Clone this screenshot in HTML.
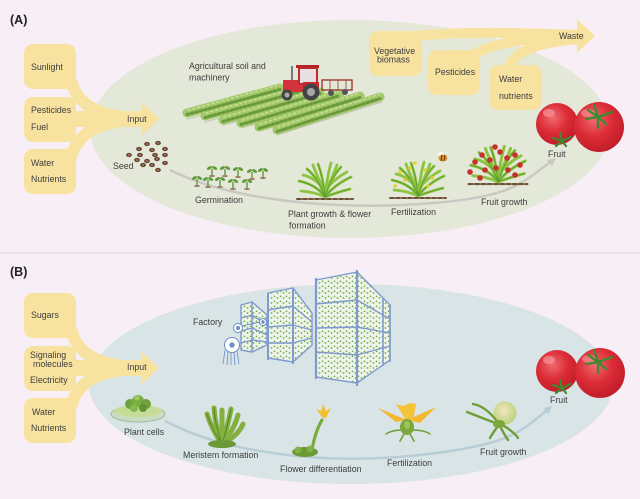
<!DOCTYPE html>
<html><head><meta charset="utf-8">
<style>
html,body{margin:0;padding:0;background:#f7eef6;}
svg{display:block;}
text{font-family:"Liberation Sans",Arial,sans-serif;font-size:8.8px;fill:#3d3d3d;}
</style></head><body>
<svg width="640" height="499" viewBox="0 0 640 499" xmlns="http://www.w3.org/2000/svg">
<defs>
<radialGradient id="tom" cx="0.4" cy="0.35" r="0.7">
<stop offset="0" stop-color="#f06a70"/>
<stop offset="0.5" stop-color="#dc2c37"/>
<stop offset="1" stop-color="#bd1c28"/>
</radialGradient>
<radialGradient id="gball" cx="0.45" cy="0.4" r="0.6">
<stop offset="0" stop-color="#f3e6c0"/>
<stop offset="1" stop-color="#b9d37c"/>
</radialGradient>
<pattern id="spk" width="6" height="5" patternUnits="userSpaceOnUse">
<rect width="6" height="5" fill="#eef4ec"/>
<circle cx="1.5" cy="3" r="1" fill="#8dbb5a"/>
<circle cx="4.5" cy="1.3" r="0.8" fill="#6aa040"/>
</pattern>
<g id="bush" fill="none" stroke-linecap="round">
<g stroke="#8cc440" stroke-width="2.8">
<path d="M0 0 Q-8 -12 -26 -16"/><path d="M0 0 Q-6 -18 -18 -28"/><path d="M0 0 Q-2 -20 -7 -33"/>
<path d="M0 0 Q2 -20 6 -34"/><path d="M0 0 Q5 -18 16 -30"/><path d="M0 0 Q9 -12 26 -20"/>
<path d="M0 0 Q-10 -5 -24 -6"/><path d="M0 0 Q10 -4 25 -8"/><path d="M-3 -10 Q-12 -20 -22 -22"/>
<path d="M3 -10 Q12 -20 22 -25"/><path d="M-1 -6 Q-10 -26 -12 -32"/><path d="M1 -6 Q10 -26 12 -32"/>
</g>
<g stroke="#5c9a30" stroke-width="0.9">
<path d="M0 0 Q-8 -12 -26 -16"/><path d="M0 0 Q-2 -20 -7 -33"/><path d="M0 0 Q5 -18 16 -30"/>
<path d="M0 0 Q10 -4 25 -8"/><path d="M0 0 Q-6 -18 -18 -28"/><path d="M0 0 Q9 -12 26 -20"/>
</g>
<line x1="-28" y1="2" x2="28" y2="2" stroke="#6e5038" stroke-width="2" stroke-dasharray="4 2"/>
</g>
<g id="sprout">
<line x1="0" y1="0" x2="0" y2="-6" stroke="#4f8530" stroke-width="1.2"/>
<ellipse cx="-2.6" cy="-7" rx="2.8" ry="1.5" fill="#5e9a38" transform="rotate(-30 -2.6 -7)"/>
<ellipse cx="2.6" cy="-7" rx="2.8" ry="1.5" fill="#5e9a38" transform="rotate(30 2.6 -7)"/>
<ellipse cx="0" cy="1" rx="3" ry="1" fill="#9a7a60"/>
</g>
<g id="seed">
<ellipse rx="2.9" ry="2.1" fill="#6a4632"/>
<ellipse rx="1.2" ry="0.8" fill="#b08868"/>
</g>
<g id="input">
<rect x="24" y="44" width="52" height="45" rx="9" fill="#f8e2a0"/>
<rect x="24" y="97" width="52" height="45" rx="9" fill="#f8e2a0"/>
<rect x="24" y="149" width="52" height="45" rx="9" fill="#f8e2a0"/>
<path d="M71 80 C75 98 90 113 118 116" stroke="#f8e2a0" stroke-width="12" fill="none"/>
<path d="M71 158 C75 140 90 125 118 122" stroke="#f8e2a0" stroke-width="12" fill="none"/>
<rect x="70" y="111" width="76" height="16" fill="#f8e2a0"/>
<polygon points="142,103 159,119 142,135" fill="#f8e2a0"/>
</g>
</defs>

<rect width="640" height="499" fill="#f7eef6"/>

<!-- ===== Panel A ===== -->
<ellipse cx="350" cy="129" rx="260" ry="109" fill="#e3e8d8"/>
<use href="#input"/>

<!-- waste arrow -->
<g fill="none" stroke="#f8e2a0" stroke-linecap="butt">
<path d="M416 36 C460 31 520 33 580 35" stroke-width="10"/>
<path d="M472 56 C488 44 520 38 580 37" stroke-width="10"/>
<path d="M508 70 C512 52 538 42 580 39" stroke-width="10"/>
</g>
<polygon points="577,19 595,36 577,53" fill="#f8e2a0"/>
<rect x="369" y="31" width="53" height="45" rx="9" fill="#f8e2a0"/>
<rect x="428" y="50" width="52" height="45" rx="9" fill="#f8e2a0"/>
<rect x="489" y="65" width="53" height="45" rx="9" fill="#f8e2a0"/>

<!-- field rows -->
<g stroke-linecap="round" fill="none">
<g stroke="#b8b8b0" stroke-width="0.8">
<path d="M187 119 L282 94"/><path d="M205 122 L302 96"/><path d="M223 125 L322 98"/>
<path d="M241 128 L342 100"/><path d="M259 131 L362 102"/><path d="M277 135 L382 102"/>
</g>
<g stroke="#a2c86a" stroke-width="9">
<path d="M187 113 L280 88"/><path d="M205 116 L300 90"/><path d="M223 120 L320 92"/>
<path d="M241 123 L340 94"/><path d="M259 127 L360 96"/><path d="M277 130 L380 97"/>
</g>
<g stroke="#6a9a3c" stroke-width="3" stroke-dasharray="2 2.5">
<path d="M187 114.5 L280 89.5"/><path d="M205 117.5 L300 91.5"/><path d="M223 121.5 L320 93.5"/>
<path d="M241 124.5 L340 95.5"/><path d="M259 128.5 L360 97.5"/><path d="M277 131.5 L380 98.5"/>
</g>
<g stroke="#c4e096" stroke-width="1.5" stroke-dasharray="2 3">
<path d="M188 110 L280 85"/><path d="M206 113 L300 87"/><path d="M224 117 L320 89"/>
<path d="M242 120 L340 91"/><path d="M260 124 L360 93"/><path d="M278 127 L380 94"/>
</g>
</g>

<!-- tractor -->
<g>
<rect x="322" y="80" width="30" height="10" fill="none" stroke="#9a3a30" stroke-width="1.4"/>
<line x1="330" y1="80" x2="330" y2="90" stroke="#9a3a30" stroke-width="0.8"/>
<line x1="338" y1="80" x2="338" y2="90" stroke="#9a3a30" stroke-width="0.8"/>
<line x1="346" y1="80" x2="346" y2="90" stroke="#9a3a30" stroke-width="0.8"/>
<circle cx="331" cy="93" r="3" fill="#555"/>
<circle cx="345" cy="92" r="3" fill="#555"/>
<line x1="292" y1="66" x2="292" y2="80" stroke="#555" stroke-width="1.5"/>
<rect x="283" y="80" width="26" height="12" fill="#d3333b"/>
<rect x="299" y="68" width="18" height="16" fill="#e8e0e0" stroke="#c22a30" stroke-width="2"/>
<rect x="296" y="65" width="23" height="3" fill="#b82228"/>
<rect x="303" y="82" width="16" height="6" fill="#c8262e"/>
<circle cx="311" cy="92" r="8.5" fill="#444"/>
<circle cx="311" cy="92" r="4" fill="#a8a8a8"/>
<circle cx="287" cy="95" r="5.5" fill="#444"/>
<circle cx="287" cy="95" r="2.5" fill="#aaa"/>
</g>

<!-- seeds -->
<g>
<use href="#seed" x="147" y="144"/><use href="#seed" x="158" y="143"/><use href="#seed" x="139" y="149"/>
<use href="#seed" x="152" y="150"/><use href="#seed" x="165" y="149"/><use href="#seed" x="129" y="155"/>
<use href="#seed" x="140" y="155"/><use href="#seed" x="155" y="155"/><use href="#seed" x="165" y="155"/>
<use href="#seed" x="137" y="160"/><use href="#seed" x="147" y="161"/><use href="#seed" x="157" y="159"/>
<use href="#seed" x="165" y="163"/><use href="#seed" x="143" y="165"/><use href="#seed" x="152" y="165"/>
<use href="#seed" x="158" y="170"/>
</g>

<!-- growth curve A -->
<path d="M170 170 C230 200 330 210 420 204 S520 185 550 162" fill="none" stroke="#c8c9c2" stroke-width="2.5"/>
<polygon points="556,158 552,166 547,160" fill="#c8c9c2"/>

<!-- germination -->
<g>
<use href="#sprout" x="212" y="175"/><use href="#sprout" x="225" y="175"/><use href="#sprout" x="238" y="176"/>
<use href="#sprout" x="252" y="178"/><use href="#sprout" x="263" y="177"/>
<use href="#sprout" x="197" y="185"/><use href="#sprout" x="208" y="186"/><use href="#sprout" x="220" y="186"/>
<use href="#sprout" x="233" y="188"/><use href="#sprout" x="247" y="188"/>
</g>

<!-- bushes -->
<use href="#bush" x="325" y="197"/>
<use href="#bush" x="418" y="196"/>
<g fill="#e6cf2e">
<circle cx="400" cy="172" r="1.8"/><circle cx="410" cy="168" r="1.8"/><circle cx="425" cy="170" r="1.8"/>
<circle cx="432" cy="178" r="1.8"/><circle cx="405" cy="180" r="1.8"/><circle cx="395" cy="186" r="1.8"/>
<circle cx="428" cy="186" r="1.8"/><circle cx="415" cy="163" r="1.8"/>
</g>
<!-- bee -->
<g>
<ellipse cx="441" cy="154" rx="3" ry="2" fill="#fff" opacity="0.8"/>
<ellipse cx="443" cy="158" rx="4.5" ry="3.5" fill="#e0962a"/>
<line x1="442" y1="155" x2="441" y2="161" stroke="#3a2a1a" stroke-width="0.9"/>
<line x1="445" y1="155" x2="444" y2="161" stroke="#3a2a1a" stroke-width="0.9"/>
</g>
<g transform="translate(498 182) scale(1.05)"><use href="#bush"/></g>
<g fill="#c8302c">
<circle cx="475" cy="162" r="2.8"/><circle cx="482" cy="155" r="2.8"/><circle cx="490" cy="160" r="2.8"/>
<circle cx="500" cy="152" r="2.8"/><circle cx="507" cy="158" r="2.8"/><circle cx="515" cy="155" r="2.8"/>
<circle cx="520" cy="165" r="2.8"/><circle cx="485" cy="170" r="2.8"/><circle cx="496" cy="168" r="2.8"/>
<circle cx="508" cy="170" r="2.8"/><circle cx="480" cy="178" r="2.8"/><circle cx="515" cy="175" r="2.8"/>
<circle cx="495" cy="147" r="2.8"/><circle cx="470" cy="172" r="2.8"/>
</g>

<!-- tomatoes A -->
<g>
<circle cx="557" cy="124" r="21" fill="url(#tom)"/>
<ellipse cx="549" cy="113" rx="6" ry="4" fill="#f7a2a6" opacity="0.6"/>
<g stroke="#3f8a30" stroke-width="2.2" stroke-linecap="round">
<path d="M562 141 L553 138"/><path d="M562 141 L571 137"/><path d="M562 141 L560 133"/><path d="M562 141 L566 146"/><path d="M562 141 L556 146"/>
</g>
<circle cx="599" cy="127" r="25" fill="url(#tom)"/>
<ellipse cx="588" cy="113" rx="7" ry="4" fill="#f7a2a6" opacity="0.55"/>
<g stroke="#3f8a30" stroke-width="2.4" stroke-linecap="round">
<path d="M598 117 L586 119"/><path d="M598 117 L612 112"/><path d="M598 117 L594 105"/><path d="M598 117 L606 124"/><path d="M598 117 L598 128"/><path d="M598 117 L588 110"/>
</g>
</g>

<!-- ===== separator ===== -->
<line x1="0" y1="253" x2="640" y2="253" stroke="#a8a0a8" stroke-width="0.8" stroke-dasharray="1 1.5"/>

<!-- ===== Panel B ===== -->
<ellipse cx="351" cy="384" rx="262" ry="100" fill="#d8e4e6"/>
<g transform="translate(0 249)"><use href="#input"/></g>

<!-- factory racks -->
<g stroke="#7f9ad0" stroke-width="1.4" stroke-linejoin="round">
<!-- rack 1 -->
<polygon points="241,305 252,302 252,352 241,350" fill="url(#spk)"/>
<polygon points="252,302 267,315 267,345 252,352" fill="url(#spk)"/>
<path d="M241 318 L252 315 L267 325 M241 331 L252 328 L267 335 M241 343 L252 340 L267 342" fill="none"/>
<!-- rack 2 -->
<polygon points="268,293 293,288 293,362 268,358" fill="url(#spk)"/>
<polygon points="293,288 312,313 312,345 293,362" fill="url(#spk)"/>
<path d="M268 310 L293 306 L312 322 M268 327 L293 325 L312 330 M268 343 L293 343 L312 338" fill="none"/>
<line x1="268" y1="293" x2="268" y2="360" stroke-width="2"/>
<line x1="293" y1="288" x2="293" y2="364" stroke-width="2"/>
<!-- rack 3 -->
<polygon points="316,280 357,272 357,383 316,377" fill="url(#spk)"/>
<polygon points="357,272 390,305 390,360 357,383" fill="url(#spk)"/>
<path d="M316 304 L357 300 L390 319 M316 328 L357 327 L390 333 M316 352 L357 355 L390 346" fill="none"/>
<line x1="316" y1="278" x2="316" y2="379" stroke-width="2.2"/>
<line x1="357" y1="270" x2="357" y2="386" stroke-width="2.2"/>
<line x1="383" y1="298" x2="383" y2="366" stroke-width="1.6"/>
<line x1="390" y1="305" x2="390" y2="362" stroke-width="1.6"/>
</g>
<!-- fans -->
<g stroke="#6b8fc8" stroke-width="1">
<g stroke-width="0.8"><line x1="225" y1="350" x2="223" y2="364"/><line x1="228" y1="351" x2="227" y2="365"/><line x1="231" y1="352" x2="231" y2="365"/><line x1="234" y1="352" x2="235" y2="365"/><line x1="237" y1="351" x2="239" y2="364"/></g>
<circle cx="232" cy="345" r="7.5" fill="#fff"/>
<circle cx="232" cy="345" r="2.2" fill="#6b8fc8"/>
<circle cx="238" cy="328" r="4.5" fill="#fff"/>
<circle cx="238" cy="328" r="1.5" fill="#6b8fc8"/>
<circle cx="263" cy="322" r="3.5" fill="#fff"/>
<circle cx="263" cy="322" r="1.2" fill="#6b8fc8"/>
<line x1="242" y1="326" x2="260" y2="322"/>
</g>

<!-- growth curve B -->
<path d="M165 421 C230 455 330 465 420 455 S520 432 546 411" fill="none" stroke="#b9cdd6" stroke-width="2.5"/>
<polygon points="552,406 548.4,414.2 543.3,408" fill="#b9cdd6"/>

<!-- petri dish -->
<g>
<ellipse cx="138" cy="414" rx="27" ry="8" fill="#c9dcc0" stroke="#9fb8a8" stroke-width="1"/>
<ellipse cx="138" cy="411" rx="24" ry="6" fill="#c6dc96"/>
<circle cx="130" cy="404" r="5" fill="#6fa23c"/><circle cx="138" cy="401" r="6" fill="#7aae42"/>
<circle cx="146" cy="404" r="5" fill="#6fa23c"/><circle cx="134" cy="408" r="4" fill="#83b84a"/>
<circle cx="143" cy="408" r="4" fill="#5e9434"/><circle cx="137" cy="398" r="2.5" fill="#a2cc64"/>
</g>

<!-- meristem -->
<g stroke-linecap="round" fill="none">
<g stroke="#84b040" stroke-width="5">
<path d="M222 444 Q212 430 207 414"/><path d="M222 444 Q215 425 214 408"/><path d="M222 444 Q222 428 222 410"/>
<path d="M222 444 Q228 425 231 409"/><path d="M222 444 Q234 430 238 415"/><path d="M222 444 Q238 436 243 424"/>
</g>
<g stroke="#5c8c2c" stroke-width="1.2">
<path d="M222 444 Q215 425 214 408"/><path d="M222 444 Q228 425 231 409"/><path d="M222 444 Q212 430 207 414"/>
</g>
<ellipse cx="222" cy="444" rx="14" ry="4" fill="#6a9a36" stroke="none"/>
</g>

<!-- flower differentiation -->
<g>
<path d="M312 450 Q315 432 322 420" stroke="#7aaa3c" stroke-width="3.2" fill="none" stroke-linecap="round"/>
<ellipse cx="305" cy="452" rx="13" ry="5" fill="#6a9a36"/>
<circle cx="298" cy="450" r="3.5" fill="#82b244"/><circle cx="310" cy="449" r="3.5" fill="#82b244"/>
<path d="M323 418 L316 409 L321 411 L323 404 L326 411 L331 408 L326 418 Z" fill="#f0c030"/>
</g>

<!-- fertilization flower -->
<g>
<path d="M407 420 L378 408 L396 422 Z" fill="#f2b830"/>
<path d="M407 420 L436 407 L420 423 Z" fill="#f2b830"/>
<path d="M407 422 L396 404 L403 406 L410 403 L416 404 L413 422 Z" fill="#f5c33a"/>
<g stroke="#6e9e34" stroke-width="1.6" fill="none" stroke-linecap="round">
<path d="M402 430 Q392 430 386 434"/><path d="M412 430 Q424 430 430 434"/><path d="M404 434 L400 441"/><path d="M410 434 L414 441"/>
</g>
<ellipse cx="407" cy="427" rx="7" ry="8" fill="#7aa83c"/>
<ellipse cx="407" cy="425" rx="3" ry="4" fill="#9cc45a"/>
</g>

<!-- fruit growth B -->
<g>
<circle cx="505" cy="413" r="11.5" fill="url(#gball)"/>
<g stroke="#6e9e34" stroke-width="2.4" fill="none" stroke-linecap="round">
<path d="M498 424 Q482 418 467 412"/><path d="M496 420 Q485 406 473 404"/><path d="M504 426 Q514 432 518 438"/>
<path d="M500 426 Q504 434 508 440"/><path d="M498 426 Q492 434 490 438"/>
</g>
<ellipse cx="499" cy="424" rx="6" ry="4" fill="#7aa83c"/>
</g>

<!-- tomatoes B -->
<g>
<circle cx="557" cy="371" r="21" fill="url(#tom)"/>
<ellipse cx="549" cy="360" rx="6" ry="4" fill="#f7a2a6" opacity="0.6"/>
<g stroke="#3f8a30" stroke-width="2.2" stroke-linecap="round">
<path d="M562 388 L553 385"/><path d="M562 388 L571 384"/><path d="M562 388 L560 380"/><path d="M562 388 L566 393"/><path d="M562 388 L556 393"/>
</g>
<circle cx="600" cy="373" r="25" fill="url(#tom)"/>
<ellipse cx="589" cy="359" rx="7" ry="4" fill="#f7a2a6" opacity="0.55"/>
<g stroke="#3f8a30" stroke-width="2.4" stroke-linecap="round">
<path d="M598 362 L586 364"/><path d="M598 362 L612 357"/><path d="M598 362 L594 350"/><path d="M598 362 L606 369"/><path d="M598 362 L598 373"/><path d="M598 362 L588 355"/>
</g>
</g>

<!-- ===== Text A ===== -->
<text x="10" y="24" style="font-size:12.5px;font-weight:bold;fill:#222">(A)</text>
<text x="31" y="70">Sunlight</text>
<text x="31" y="113">Pesticides</text>
<text x="31" y="130">Fuel</text>
<text x="31" y="166">Water</text>
<text x="31" y="182">Nutrients</text>
<text x="127" y="122">Input</text>
<text x="189" y="69">Agricultural soil and</text>
<text x="189" y="80.5">machinery</text>
<text x="113" y="169">Seed</text>
<text x="195" y="203">Germination</text>
<text x="288" y="217">Plant growth &amp; flower</text>
<text x="289" y="228.5">formation</text>
<text x="391" y="215">Fertilization</text>
<text x="481" y="205">Fruit growth</text>
<text x="548" y="157">Fruit</text>
<text x="374" y="54">Vegetative</text>
<text x="377" y="62.5">biomass</text>
<text x="435" y="75">Pesticides</text>
<text x="499" y="82">Water</text>
<text x="499" y="99">nutrients</text>
<text x="559" y="39">Waste</text>

<!-- ===== Text B ===== -->
<text x="10" y="276" style="font-size:12.5px;font-weight:bold;fill:#222">(B)</text>
<text x="31" y="318">Sugars</text>
<text x="30" y="358">Signaling</text>
<text x="33" y="367">molecules</text>
<text x="30" y="383">Electricity</text>
<text x="32" y="415">Water</text>
<text x="31" y="431">Nutrients</text>
<text x="127" y="370">Input</text>
<text x="193" y="325">Factory</text>
<text x="124" y="435">Plant cells</text>
<text x="183" y="458">Meristem formation</text>
<text x="280" y="472">Flower differentiation</text>
<text x="387" y="466">Fertilization</text>
<text x="480" y="455">Fruit growth</text>
<text x="550" y="403">Fruit</text>
</svg>
</body></html>
